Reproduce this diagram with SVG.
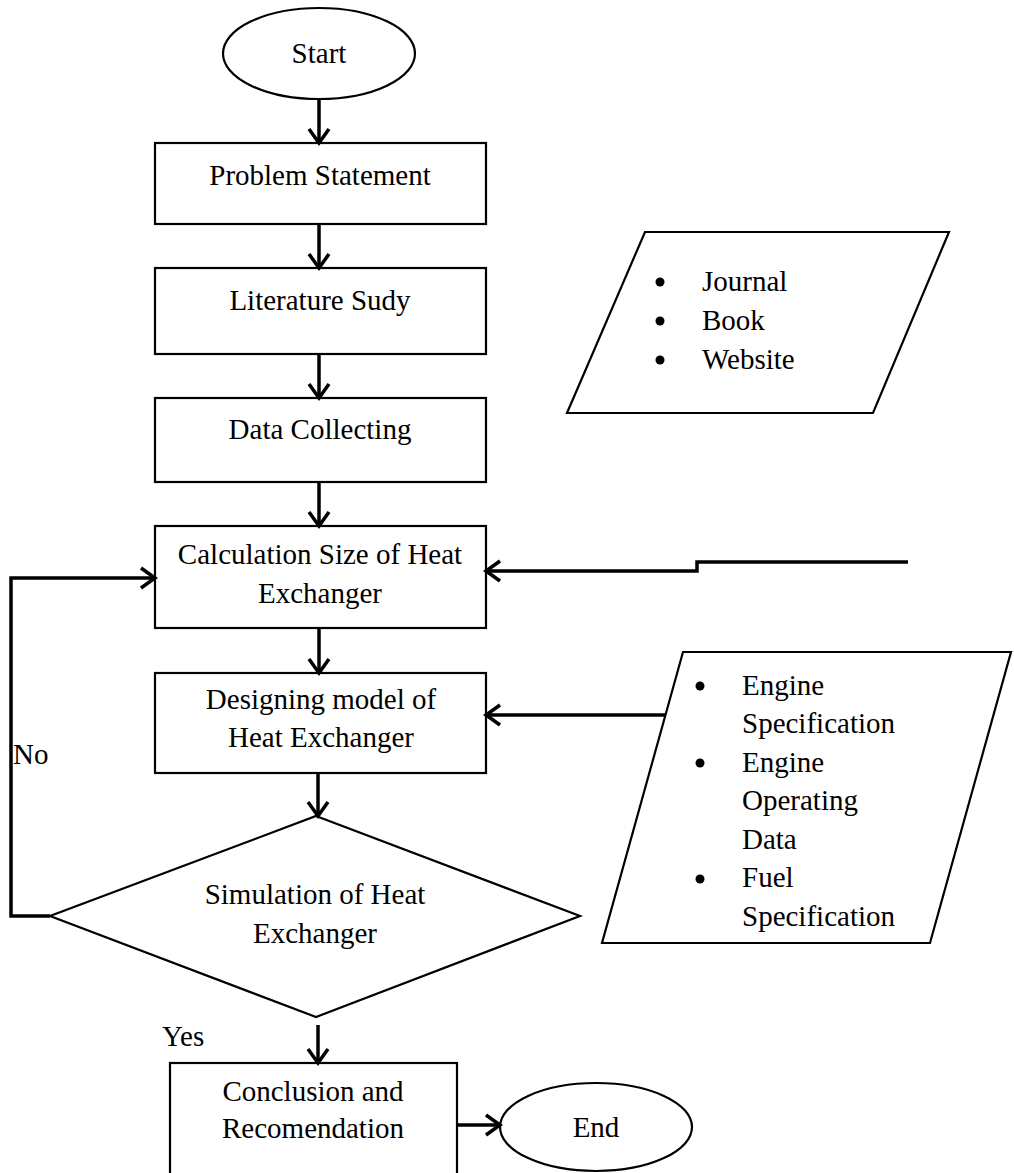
<svg xmlns="http://www.w3.org/2000/svg" width="1014" height="1173" viewBox="0 0 1014 1173">
<style>
.shape{fill:#fff;stroke:#000;stroke-width:2.2}
.t{font-family:"Liberation Serif","Times New Roman",serif;font-size:29px;fill:#000}
.c{text-anchor:middle}
.con{fill:none;stroke:#000;stroke-width:3.5}
</style>
<defs>
<marker id="ah" markerUnits="userSpaceOnUse" markerWidth="22" markerHeight="26" viewBox="0 0 22 26" refX="18" refY="13" orient="auto">
<path d="M4,3 L18,13 L4,23" fill="none" stroke="#000" stroke-width="3.5" stroke-linejoin="miter"/>
</marker>
</defs>
<rect width="1014" height="1173" fill="#fff"/>
<g id="start">
<ellipse class="shape" cx="319" cy="53.5" rx="96" ry="45.5"/>
<text class="t c" x="319" y="63">Start</text>
</g>
<g id="problem">
<rect class="shape" x="155" y="143" width="331" height="81"/>
<text class="t c" x="320" y="185">Problem Statement</text>
</g>
<g id="literature">
<rect class="shape" x="155" y="268" width="331" height="86"/>
<text class="t c" x="320" y="310">Literature Sudy</text>
</g>
<g id="data">
<rect class="shape" x="155" y="398" width="331" height="84"/>
<text class="t c" x="320" y="439">Data Collecting</text>
</g>
<g id="calc">
<rect class="shape" x="155" y="526" width="331" height="102"/>
<text class="t c" x="320" y="564">Calculation Size of Heat</text>
<text class="t c" x="320" y="603">Exchanger</text>
</g>
<g id="design">
<rect class="shape" x="155" y="673" width="331" height="100"/>
<text class="t c" x="321" y="709">Designing model of</text>
<text class="t c" x="321" y="747">Heat Exchanger</text>
</g>
<g id="simulation">
<polygon class="shape" points="316,816 580,916 316,1017 50,916"/>
<text class="t c" x="315" y="904">Simulation of Heat</text>
<text class="t c" x="315" y="943">Exchanger</text>
</g>
<g id="conclusion">
<rect class="shape" x="170" y="1063" width="287" height="130"/>
<text class="t c" x="313" y="1101">Conclusion and</text>
<text class="t c" x="313" y="1138">Recomendation</text>
</g>
<g id="end">
<ellipse class="shape" cx="596" cy="1127" rx="96" ry="44"/>
<text class="t c" x="596" y="1137">End</text>
</g>
<g id="sources">
<polygon class="shape" points="645,232 949,232 873,413 567,413"/>
<circle cx="660" cy="282" r="4.5"/>
<circle cx="660" cy="321" r="4.5"/>
<circle cx="660" cy="360" r="4.5"/>
<text class="t" x="702" y="291">Journal</text>
<text class="t" x="702" y="330">Book</text>
<text class="t" x="702" y="369">Website</text>
</g>
<g id="engine-data">
<polygon class="shape" points="683,652 1011,652 930,943 602,943"/>
<circle cx="700" cy="686" r="4.5"/>
<circle cx="700" cy="763" r="4.5"/>
<circle cx="700" cy="879" r="4.5"/>
<text class="t" x="742" y="695">Engine</text>
<text class="t" x="742" y="733">Specification</text>
<text class="t" x="742" y="772">Engine</text>
<text class="t" x="742" y="810">Operating</text>
<text class="t" x="742" y="849">Data</text>
<text class="t" x="742" y="887">Fuel</text>
<text class="t" x="742" y="926">Specification</text>
</g>
<g id="labels">
<text class="t" x="13" y="764">No</text>
<text class="t" x="162" y="1046">Yes</text>
</g>
<g id="connectors">
<path class="con" d="M319,99 V143" marker-end="url(#ah)"/>
<path class="con" d="M319,224 V268" marker-end="url(#ah)"/>
<path class="con" d="M319,354 V398" marker-end="url(#ah)"/>
<path class="con" d="M319,482 V526" marker-end="url(#ah)"/>
<path class="con" d="M319,628 V673" marker-end="url(#ah)"/>
<path class="con" d="M318,773 V816" marker-end="url(#ah)"/>
<path class="con" d="M318,1025 V1063" marker-end="url(#ah)"/>
<path class="con" d="M457,1125 H500" marker-end="url(#ah)"/>
<path class="con" d="M50,916 H11 V578 H155" marker-end="url(#ah)"/>
<path class="con" d="M908,562 H697 V571 H486" marker-end="url(#ah)"/>
<path class="con" d="M665,715 H486" marker-end="url(#ah)"/>
</g>
</svg>
